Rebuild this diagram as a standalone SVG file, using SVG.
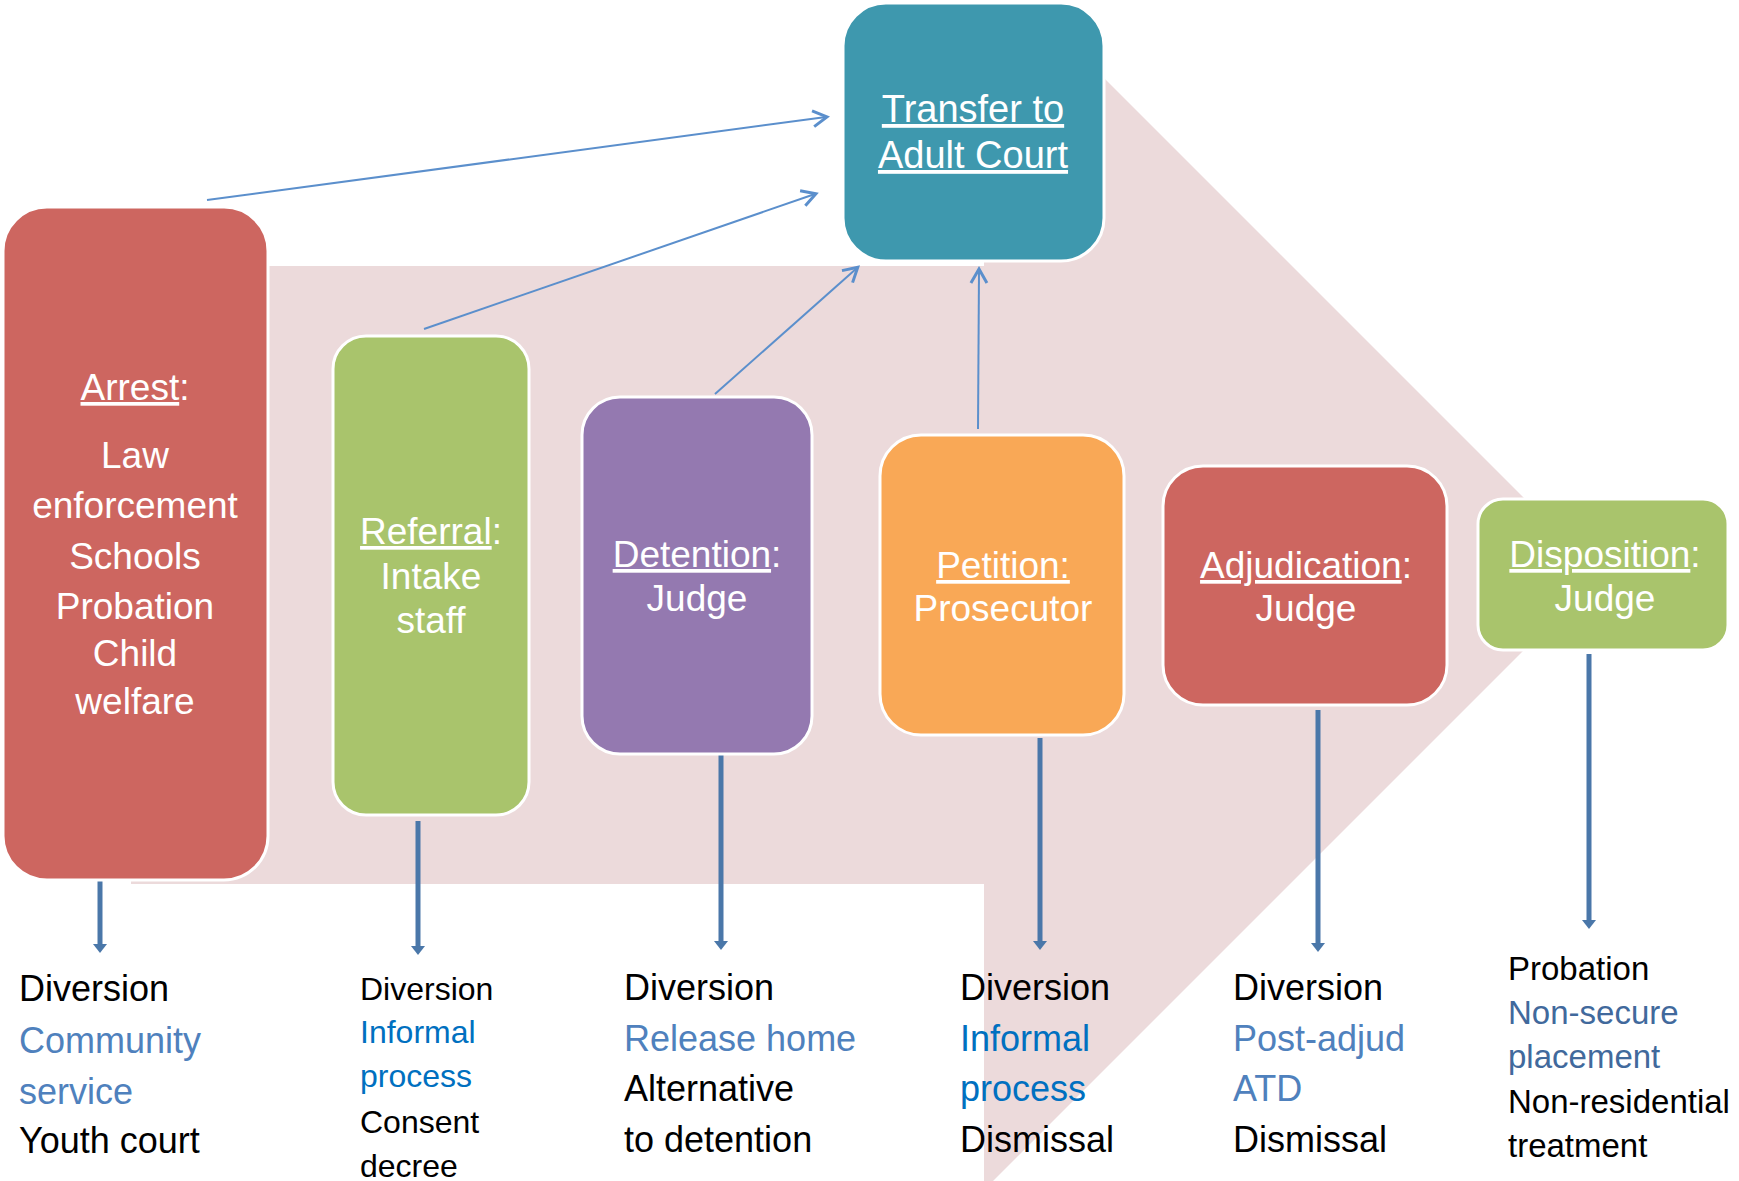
<svg xmlns="http://www.w3.org/2000/svg" width="1739" height="1181" viewBox="0 0 1739 1181">
<style>
.node{stroke:#ffffff;stroke-width:3}
.nt{font-family:"Liberation Sans",Arial,sans-serif;font-size:37px;fill:#ffffff;text-anchor:middle}
.u{text-decoration:underline}
.thin{stroke:#5B8FCC;stroke-width:2;fill:none;marker-end:url(#open)}
.down{stroke:#4A77A9;stroke-width:5}
.lt{font-family:"Liberation Sans",Arial,sans-serif;font-size:36px;fill:#000000}
.sm{font-size:32px}
.sm6{font-size:33px}
.b1{fill:#4F81BD}
.b2{fill:#0070C0}
.b3{fill:#41699C}
</style>
<defs>
<marker id="open" markerWidth="20" markerHeight="20" refX="16" refY="10" orient="auto" markerUnits="userSpaceOnUse">
<path d="M3,2 L17,10 L3,18" fill="none" stroke="#5B8FCC" stroke-width="3"/>
</marker>
</defs>
<rect width="1739" height="1181" fill="#ffffff"/>
<path d="M131,266 L984,266 L984,3 L1029,3 L1600,574 L984,1190 L984,884 L131,884 Z" fill="#ECDADB"/>

<g id="connectors">
<line class="thin" x1="207" y1="200" x2="826" y2="117"/>
<line class="thin" x1="424" y1="329" x2="815" y2="194"/>
<line class="thin" x1="715" y1="394" x2="857" y2="268"/>
<line class="thin" x1="978" y1="429" x2="979" y2="270"/>
<g fill="#4A77A9">
<line class="down" x1="100" y1="880" x2="100" y2="946"/>
<path d="M93,944 L107,944 L100,953 Z"/>
<line class="down" x1="418" y1="821" x2="418" y2="948"/>
<path d="M411,946 L425,946 L418,955 Z"/>
<line class="down" x1="721" y1="754" x2="721" y2="943"/>
<path d="M714,941 L728,941 L721,950 Z"/>
<line class="down" x1="1040" y1="738" x2="1040" y2="943"/>
<path d="M1033,941 L1047,941 L1040,950 Z"/>
<line class="down" x1="1318" y1="710" x2="1318" y2="945"/>
<path d="M1311,943 L1325,943 L1318,952 Z"/>
<line class="down" x1="1589" y1="654" x2="1589" y2="922"/>
<path d="M1582,920 L1596,920 L1589,929 Z"/>
</g>
</g>

<g id="transfer">
<rect class="node" x="843" y="3" width="261" height="258" rx="43" fill="#3E98AE"/>
<text class="nt" style="font-size:38px"><tspan class="u" x="973" y="122">Transfer to</tspan><tspan class="u" x="973" y="168">Adult Court</tspan></text>
</g>

<g id="arrest">
<rect class="node" x="3" y="207" width="265" height="673" rx="44" fill="#CD6660"/>
<text class="nt"><tspan x="135" y="400"><tspan class="u">Arrest</tspan>:</tspan><tspan x="135" y="468">Law</tspan><tspan x="135" y="518">enforcement</tspan><tspan x="135" y="569">Schools</tspan><tspan x="135" y="619">Probation</tspan><tspan x="135" y="666">Child</tspan><tspan x="135" y="714">welfare</tspan></text>
</g>

<g id="referral">
<rect class="node" x="333" y="336" width="196" height="479" rx="33" fill="#A9C46C"/>
<text class="nt"><tspan x="431" y="544"><tspan class="u">Referral</tspan>:</tspan><tspan x="431" y="589">Intake</tspan><tspan x="431" y="633">staff</tspan></text>
</g>

<g id="detention">
<rect class="node" x="582" y="397" width="230" height="357" rx="38" fill="#9479B0"/>
<text class="nt"><tspan x="697" y="567"><tspan class="u">Detention</tspan>:</tspan><tspan x="697" y="611">Judge</tspan></text>
</g>

<g id="petition">
<rect class="node" x="880" y="435" width="244" height="300" rx="41" fill="#F9A856"/>
<text class="nt"><tspan class="u" x="1003" y="578">Petition:</tspan><tspan x="1003" y="621">Prosecutor</tspan></text>
</g>

<g id="adjudication">
<rect class="node" x="1163" y="466" width="284" height="239" rx="40" fill="#CD6660"/>
<text class="nt"><tspan x="1306" y="578"><tspan class="u">Adjudication</tspan>:</tspan><tspan x="1306" y="621">Judge</tspan></text>
</g>

<g id="disposition">
<rect class="node" x="1478" y="499" width="250" height="151" rx="25" fill="#A9C46C"/>
<text class="nt"><tspan x="1605" y="567"><tspan class="u">Disposition</tspan>:</tspan><tspan x="1605" y="611">Judge</tspan></text>
</g>

<g id="outcomes">
<text class="lt"><tspan x="19" y="1001">Diversion</tspan><tspan class="b1" x="19" y="1053">Community</tspan><tspan class="b1" x="19" y="1104">service</tspan><tspan x="19" y="1153">Youth court</tspan></text>
<text class="lt sm"><tspan x="360" y="1000">Diversion</tspan><tspan class="b2" x="360" y="1043">Informal</tspan><tspan class="b2" x="360" y="1087">process</tspan><tspan x="360" y="1133">Consent</tspan><tspan x="360" y="1177">decree</tspan></text>
<text class="lt"><tspan x="624" y="1000">Diversion</tspan><tspan class="b1" x="624" y="1051">Release home</tspan><tspan x="624" y="1101">Alternative</tspan><tspan x="624" y="1152">to detention</tspan></text>
<text class="lt"><tspan x="960" y="1000">Diversion</tspan><tspan class="b2" x="960" y="1051">Informal</tspan><tspan class="b2" x="960" y="1101">process</tspan><tspan x="960" y="1152">Dismissal</tspan></text>
<text class="lt"><tspan x="1233" y="1000">Diversion</tspan><tspan class="b1" x="1233" y="1051">Post-adjud</tspan><tspan class="b1" x="1233" y="1101">ATD</tspan><tspan x="1233" y="1152">Dismissal</tspan></text>
<text class="lt sm6"><tspan x="1508" y="980">Probation</tspan><tspan class="b3" x="1508" y="1024">Non-secure</tspan><tspan class="b3" x="1508" y="1068">placement</tspan><tspan x="1508" y="1113">Non-residential</tspan><tspan x="1508" y="1157">treatment</tspan></text>
</g>
</svg>
